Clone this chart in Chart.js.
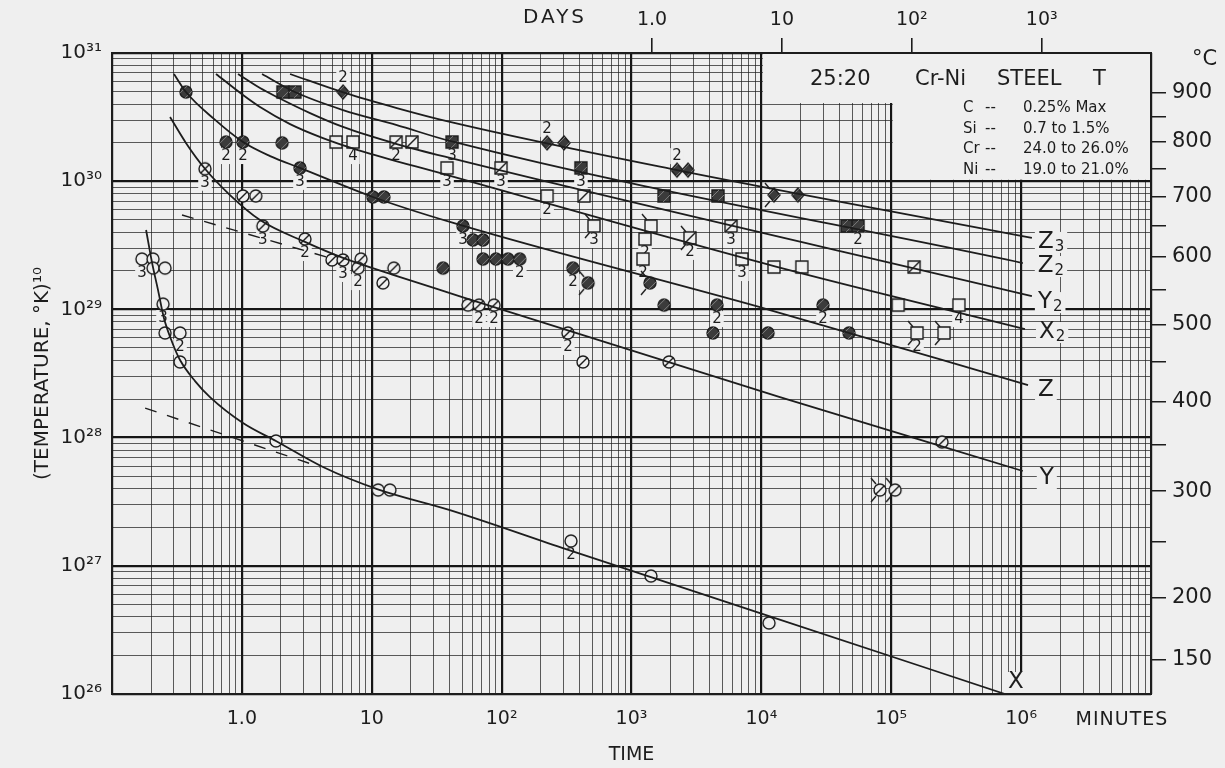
<!DOCTYPE html>
<html><head><meta charset="utf-8">
<script src="https://cdn.jsdelivr.net/npm/chart.js@4.4.1/dist/chart.umd.min.js"></script>
<style>html,body{margin:0;padding:0;background:#efefef;overflow:hidden}canvas{display:block}</style>
</head><body><canvas id="c" width="1225" height="768"></canvas>
<script>
// ---------- axis ticks / labels ----------
const xMajorTicks = [1, 10, 100, 1000, 1e4, 1e5, 1e6];
const xMajorLabels = ['1.0', '10', '10²', '10³', '10⁴', '10⁵', '10⁶'];
const dayTicksMin = [1440, 14400, 144000, 1440000];
const dayLabels = ['1.0', '10', '10²', '10³'];
const yMajorTicks = [1e26, 1e27, 1e28, 1e29, 1e30, 1e31];
const yMajorLabels = ['10²⁶', '10²⁷', '10²⁸', '10²⁹', '10³⁰', '10³¹'];
const celsiusMajor = [900, 800, 700, 600, 500, 400, 300, 200, 150];
const celsiusMinor = [850, 750, 650, 550, 450, 350, 250];

// ---------- master curves (time in minutes, (T,K)^10) ----------
const xCurveT = [0.183, 0.203, 0.226, 0.251, 0.290, 0.334, 0.436, 0.568, 1.02, 1.83, 4.21, 11.0, 40.0, 313, 9760, 751000];
const xCurveV = [4.16e29, 2.34e29, 1.42e29, 8.57e28, 5.57e28, 4.03e28, 2.76e28, 2.07e28, 1.30e28, 9.41e27, 5.90e27, 3.97e27, 2.72e27, 1.35e27, 4.28e26, 1.0e26];
const xDashT = [0.180, 4.00];
const xDashV = [1.70e28, 5.90e27];

const yCurveT = [0.280, 0.371, 0.520, 0.810, 1.38, 3.06, 6.01, 14.8, 40.0, 13900, 1.03e6];
const yCurveV = [3.17e30, 1.99e30, 1.25e30, 7.80e29, 4.98e29, 3.36e29, 2.52e29, 1.85e29, 1.34e29, 2.07e28, 5.49e27];
const yDashT = [0.346, 4.52];
const yDashV = [5.45e29, 2.56e29];

const zCurveT = [0.300, 0.371, 0.610, 1.02, 1.65, 2.80, 10.2, 40.0, 11650, 1.13e6];
const zCurveV = [6.86e30, 4.96e30, 3.06e30, 2.02e30, 1.57e30, 1.27e30, 7.53e29, 4.81e29, 9.89e28, 2.57e28];

const x2CurveT = [0.632, 1.02, 1.38, 2.35, 4.21, 7.84, 35.4, 12500, 1.07e6];
const x2CurveV = [6.86e30, 4.70e30, 3.79e30, 2.79e30, 2.17e30, 1.75e30, 1.14e30, 2.18e29, 7.03e28];

const y2CurveT = [0.934, 1.38, 1.86, 3.35, 6.01, 15.6, 40.0, 1.21e6];
const y2CurveV = [6.86e30, 5.33e30, 4.54e30, 3.40e30, 2.65e30, 1.95e30, 1.52e30, 1.27e29];

const z2CurveT = [1.43, 2.56, 6.01, 15.6, 40.0, 1.03e6];
const z2CurveV = [6.86e30, 4.96e30, 3.59e30, 2.74e30, 2.06e30, 2.30e29];

const z3CurveT = [2.35, 6.22, 15.6, 40.0, 2240, 1.21e6];
const z3CurveV = [6.86e30, 4.88e30, 3.72e30, 2.90e30, 1.22e30, 3.61e29];

// ---------- test points (N = number of coincident tests, Tail = arrow marks) ----------
const xPtT = [0.170, 0.207, 0.207, 0.256, 0.247, 0.256, 0.334, 0.334, 1.83, 11.2, 13.8, 342, 1413, 11450];
const xPtV = [2.47e29, 2.47e29, 2.10e29, 2.10e29, 1.10e29, 6.55e28, 6.55e28, 3.89e28, 9.41e27, 3.90e27, 3.90e27, 1.56e27, 8.32e26, 3.58e26];
const xPtN = [3, 0, 0, 0, 3, 0, 2, 0, 0, 0, 0, 2, 0, 0];
const xPtTail = [0, 0, 0, 0, 0, 0, 0, 0, 0, 0, 0, 0, 0, 0];

const yPtT = [0.520, 1.02, 1.28, 1.45, 3.06, 4.94, 6.01, 8.27, 7.84, 14.8, 12.2, 55.1, 67.0, 87.4, 324, 423, 1945, 2.46e5, 8.19e4, 1.07e5];
const yPtV = [1.25e30, 7.67e29, 7.67e29, 4.47e29, 3.54e29, 2.43e29, 2.43e29, 2.47e29, 2.10e29, 2.10e29, 1.61e29, 1.08e29, 1.08e29, 1.08e29, 6.55e28, 3.89e28, 3.89e28, 9.24e27, 3.90e27, 3.90e27];
const yPtN = [3, 0, 0, 3, 2, 0, 3, 0, 2, 0, 0, 0, 2, 2, 2, 0, 0, 0, 0, 0];
const yPtTail = [0, 0, 0, 0, 0, 0, 0, 0, 0, 0, 0, 0, 0, 0, 0, 0, 0, 0, 1, 1];

const zPtT = [0.371, 0.755, 1.02, 2.04, 2.80, 10.2, 12.4, 35.4, 50.4, 60.2, 71.9, 71.9, 90.5, 112, 138, 354, 463, 1388, 1780, 4550, 4240, 11250, 29800, 47300];
const zPtV = [4.96e30, 2.02e30, 2.02e30, 1.99e30, 1.27e30, 7.53e29, 7.53e29, 2.10e29, 4.47e29, 3.48e29, 3.48e29, 2.47e29, 2.47e29, 2.47e29, 2.47e29, 2.10e29, 1.61e29, 1.61e29, 1.08e29, 1.08e29, 6.55e28, 6.55e28, 1.08e29, 6.55e28];
const zPtN = [0, 2, 2, 0, 3, 0, 0, 0, 3, 0, 0, 0, 0, 0, 2, 2, 0, 0, 0, 2, 0, 0, 2, 0];
const zPtTail = [0, 0, 0, 0, 0, 0, 0, 0, 0, 0, 0, 0, 0, 0, 0, 0, 1, 1, 0, 0, 0, 0, 0, 0];

const x2PtT = [5.31, 7.17, 38.0, 224, 514, 1413, 1270, 1226, 7090, 12500, 20500, 1.13e5, 3.32e5, 1.58e5, 2.55e5];
const x2PtV = [2.02e30, 2.02e30, 1.27e30, 7.67e29, 4.47e29, 4.47e29, 3.54e29, 2.47e29, 2.47e29, 2.14e29, 2.14e29, 1.08e29, 1.08e29, 6.55e28, 6.55e28];
const x2PtN = [0, 4, 3, 2, 3, 0, 2, 2, 3, 0, 0, 0, 4, 2, 0];
const x2PtTail = [0, 0, 0, 0, 1, 1, 0, 0, 0, 0, 0, 0, 0, 1, 1];

const y2PtT = [15.4, 20.4, 98.9, 431, 5840, 2820, 1.50e5];
const y2PtV = [2.02e30, 2.02e30, 1.27e30, 7.67e29, 4.47e29, 3.61e29, 2.14e29];
const y2PtN = [2, 0, 3, 0, 3, 2, 0];
const y2PtTail = [0, 0, 0, 0, 0, 1, 0];

const z2PtT = [2.07, 2.56, 41.5, 408, 1780, 4630, 45600, 55500];
const z2PtV = [4.96e30, 4.96e30, 2.02e30, 1.27e30, 7.67e29, 7.67e29, 4.47e29, 4.47e29];
const z2PtN = [0, 0, 3, 3, 0, 0, 0, 2];
const z2PtTail = [0, 0, 0, 0, 0, 0, 0, 0];

const z3PtT = [6.01, 224, 302, 2240, 2720, 12500, 19100];
const z3PtV = [4.96e30, 1.99e30, 1.99e30, 1.22e30, 1.22e30, 7.80e29, 7.80e29];
const z3PtN = [2, 2, 0, 2, 0, 0, 0];
const z3PtTail = [0, 0, 0, 0, 0, 1, 0];

const curveNames = ['X', 'Y', 'Z', 'X', 'Y', 'Z', 'Z'];
const curveSubs = ['', '', '', '2', '2', '2', '3'];

const alloyTitle = ['25:20', 'Cr-Ni', 'STEEL', 'T'];
const alloyElems = ['C', 'Si', 'Cr', 'Ni'];
const alloyValues = ['0.25% Max', '0.7 to 1.5%', '24.0 to 26.0%', '19.0 to 21.0%'];

// ---------- styling ----------
const INK = '#1d1d1d';
const BG = '#efefef';
const FONT = '"DejaVu Sans", "Noto Sans", sans-serif';
Chart.defaults.font.family = FONT;
Chart.defaults.color = INK;

function decadeTicks(a, b) {
  const out = [];
  for (let n = a; n < b; n++) for (let k = 1; k <= 9; k++) out.push(k * Math.pow(10, n));
  out.push(Math.pow(10, b));
  return out;
}
function labelFor(v, majors, labels) {
  const i = majors.findIndex(m => Math.abs(Math.log10(v / m)) < 1e-6);
  return i >= 0 ? labels[i] : '';
}
function isDecade(v) { const l = Math.log10(v); return Math.abs(l - Math.round(l)) < 1e-6; }
const gridColor = c => isDecade(c.tick.value) ? '#151515' : 'rgba(30,30,30,0.72)';
const gridWidth = c => isDecade(c.tick.value) ? 2.2 : 1;

function makeMarker(shape, tails) {
  const S = 32, cv = document.createElement('canvas');
  cv.width = S; cv.height = S;
  const g = cv.getContext('2d'), m = S / 2;
  const path = () => {
    g.beginPath();
    if (shape.startsWith('circle')) g.arc(m, m, 6, 0, Math.PI * 2);
    else if (shape.startsWith('square')) g.rect(m - 6, m - 6, 12, 12);
    else { g.moveTo(m, m - 7); g.lineTo(m + 6, m); g.lineTo(m, m + 7); g.lineTo(m - 6, m); g.closePath(); }
  };
  const filled = shape.endsWith('Fill') || shape === 'diamond';
  g.lineWidth = 1.4; g.strokeStyle = INK;
  path(); g.fillStyle = filled ? '#3b3b3b' : BG; g.fill(); g.stroke();
  if (filled) {
    g.save(); path(); g.clip();
    g.strokeStyle = 'rgba(160,160,160,0.75)'; g.lineWidth = 0.9;
    g.beginPath();
    g.moveTo(m - 6, m + 1); g.lineTo(m + 1, m - 6);
    g.moveTo(m - 1, m + 6); g.lineTo(m + 6, m - 1);
    g.stroke(); g.restore();
  }
  if (shape.endsWith('Slash')) {
    g.beginPath();
    if (shape.startsWith('circle')) { g.moveTo(m - 4.3, m + 4.3); g.lineTo(m + 4.3, m - 4.3); }
    else { g.moveTo(m - 6, m + 6); g.lineTo(m + 6, m - 6); }
    g.stroke();
  }
  if (tails) {
    g.beginPath();
    g.moveTo(m - 4, m - 6); g.lineTo(m - 9, m - 12);
    g.moveTo(m - 4, m + 6); g.lineTo(m - 9, m + 12);
    g.stroke();
  }
  return cv;
}

function lineSet(T, V, dash, idx) {
  return {
    data: T.map((t, i) => ({ x: t, y: V[i] })), showLine: true, pointRadius: 0,
    borderColor: INK, borderWidth: dash ? 1.4 : 1.8, borderDash: dash || [],
    cubicInterpolationMode: 'monotone', fill: false, curveIndex: idx
  };
}
function pointSet(T, V, N, tails, shape, countPos) {
  const normal = makeMarker(shape, false), tailed = makeMarker(shape, true);
  return {
    data: T.map((t, i) => ({ x: t, y: V[i] })), showLine: false,
    pointStyle: c => (tails[c.dataIndex] ? tailed : normal), pointRadius: 7,
    counts: N, countPos: countPos
  };
}

// label offsets (px) relative to the curve's last point
const labelOffsets = [[3, -12], [17, 7], [10, 5], [14, 3], [6, 6], [15, 3], [6, 4]];

const datasets = [
  lineSet(xCurveT, xCurveV, null, 0),
  lineSet(xDashT, xDashV, [12, 11], -1),
  lineSet(yCurveT, yCurveV, null, 1),
  lineSet(yDashT, yDashV, [12, 11], -1),
  lineSet(zCurveT, zCurveV, null, 2),
  lineSet(x2CurveT, x2CurveV, null, 3),
  lineSet(y2CurveT, y2CurveV, null, 4),
  lineSet(z2CurveT, z2CurveV, null, 5),
  lineSet(z3CurveT, z3CurveV, null, 6),
  pointSet(xPtT, xPtV, xPtN, xPtTail, 'circle', 'below'),
  pointSet(yPtT, yPtV, yPtN, yPtTail, 'circleSlash', 'below'),
  pointSet(zPtT, zPtV, zPtN, zPtTail, 'circleFill', 'below'),
  pointSet(x2PtT, x2PtV, x2PtN, x2PtTail, 'square', 'below'),
  pointSet(y2PtT, y2PtV, y2PtN, y2PtTail, 'squareSlash', 'below'),
  pointSet(z2PtT, z2PtV, z2PtN, z2PtTail, 'squareFill', 'below'),
  pointSet(z3PtT, z3PtV, z3PtN, z3PtTail, 'diamond', 'above')
];

function bgText(g, text, x, y, align) {
  const w = g.measureText(text).width;
  const x0 = align === 'left' ? x : x - w / 2;
  g.fillStyle = BG; g.fillRect(x0 - 2, y - 8, w + 4, 16);
  g.fillStyle = INK; g.textAlign = align || 'center'; g.textBaseline = 'middle';
  g.fillText(text, x, y);
}

const deco = {
  id: 'deco',
  beforeDraw(chart) {
    const g = chart.ctx; g.save(); g.fillStyle = BG; g.fillRect(0, 0, chart.width, chart.height); g.restore();
  },
  beforeDatasetsDraw(chart) {
    const g = chart.ctx, a = chart.chartArea, xs = chart.scales.x, ys = chart.scales.y;
    g.save();
    // blank inset box for the alloy legend
    g.fillStyle = BG;
    const x4 = xs.getPixelForValue(1e4), x5 = xs.getPixelForValue(1e5);
    const y4 = ys.getPixelForValue(4e30), y1 = ys.getPixelForValue(1e30);
    g.fillRect(x4 + 1.5, a.top, a.right - x4 - 1.5, y4 - a.top - 1);
    g.fillRect(x5 + 1.5, a.top, a.right - x5 - 1.5, y1 - a.top - 1.5);
    // count labels
    g.font = '15px ' + FONT;
    chart.data.datasets.forEach((ds, i) => {
      if (!ds.counts) return;
      const meta = chart.getDatasetMeta(i);
      meta.data.forEach((el, j) => {
        const n = ds.counts[j];
        if (!n) return;
        const dy = ds.countPos === 'above' ? -14 : 14;
        bgText(g, String(n), el.x, el.y + dy, 'center');
      });
    });
    // curve labels
    chart.data.datasets.forEach((ds, i) => {
      if (ds.curveIndex === undefined || ds.curveIndex < 0) return;
      const k = ds.curveIndex;
      const meta = chart.getDatasetMeta(i);
      const last = meta.data[meta.data.length - 1];
      const px = last.x + labelOffsets[k][0], py = last.y + labelOffsets[k][1];
      g.font = '23px ' + FONT;
      const w1 = g.measureText(curveNames[k]).width;
      g.font = '15px ' + FONT;
      const w2 = curveSubs[k] ? g.measureText(curveSubs[k]).width + 1 : 0;
      g.fillStyle = BG; g.fillRect(px - 3, py - 10, w1 + w2 + 6, 21);
      g.fillStyle = INK; g.textAlign = 'left'; g.textBaseline = 'middle';
      g.font = '23px ' + FONT; g.fillText(curveNames[k], px, py);
      if (curveSubs[k]) { g.font = '15px ' + FONT; g.fillText(curveSubs[k], px + w1 + 1, py + 5); }
    });
    g.restore();
  },
  afterDraw(chart) {
    const g = chart.ctx, a = chart.chartArea;
    g.save();
    g.strokeStyle = INK; g.lineWidth = 2;
    g.strokeRect(a.left, a.top, a.right - a.left, a.bottom - a.top);
    g.fillStyle = INK; g.textBaseline = 'middle';
    g.font = '21px ' + FONT; g.textAlign = 'left';
    g.fillText('°C', 1192, 60);
    g.textAlign = 'center';
    g.font = '20px ' + FONT;
    g.letterSpacing = '3px';
    g.fillText('DAYS', 555, 18);
    g.letterSpacing = '1px';
    g.font = '19px ' + FONT;
    g.fillText('MINUTES', 1122, 720);
    g.letterSpacing = '0px';
    // alloy legend
    g.textAlign = 'left';
    g.font = '21px ' + FONT;
    const tx = [810, 915, 997, 1093];
    alloyTitle.forEach((s, i) => g.fillText(s, tx[i], 80));
    g.font = '15px ' + FONT;
    alloyElems.forEach((s, i) => {
      const yy = 108 + i * 20.7;
      g.fillText(s, 963, yy);
      g.fillText('--', 985, yy);
      g.fillText(alloyValues[i], 1023, yy);
    });
    g.restore();
  }
};

const tickFont = { family: FONT, size: 19 };
new Chart(document.getElementById('c'), {
  type: 'scatter',
  data: { datasets },
  options: {
    responsive: false, animation: false, devicePixelRatio: 1,
    layout: { padding: 0 },
    plugins: { legend: { display: false }, tooltip: { enabled: false } },
    scales: {
      x: {
        type: 'logarithmic', position: 'bottom', min: 0.1, max: 1e7,
        afterBuildTicks: s => { s.ticks = decadeTicks(-1, 7).map(v => ({ value: v })); },
        afterFit: s => { s.height = 74; },
        ticks: { autoSkip: false, maxRotation: 0, minRotation: 0, padding: 14, font: tickFont, color: INK,
          callback: v => labelFor(v, xMajorTicks, xMajorLabels) },
        grid: { drawTicks: false, color: gridColor, lineWidth: gridWidth },
        border: { display: false },
        title: { display: true, text: 'TIME', color: INK, font: { family: FONT, size: 19 }, padding: { top: 0, bottom: 2 } }
      },
      x2: {
        type: 'logarithmic', position: 'top', min: 0.1, max: 1e7,
        afterBuildTicks: s => { s.ticks = dayTicksMin.map(v => ({ value: v })); },
        afterFit: s => { s.height = 53; },
        ticks: { autoSkip: false, maxRotation: 0, minRotation: 0, padding: 7, font: tickFont, color: INK,
          callback: v => labelFor(v, dayTicksMin, dayLabels) },
        grid: { drawOnChartArea: false, drawTicks: true, tickLength: 15, color: INK, lineWidth: 1.6 },
        border: { display: false }
      },
      y: {
        type: 'logarithmic', position: 'left', min: 1e26, max: 1e31,
        afterBuildTicks: s => { s.ticks = decadeTicks(26, 31).map(v => ({ value: v })); },
        afterFit: s => { s.width = 112; },
        ticks: { autoSkip: false, padding: 10, font: { family: FONT, size: 20 }, color: INK,
          callback: v => labelFor(v, yMajorTicks, yMajorLabels) },
        grid: { drawTicks: false, color: gridColor, lineWidth: gridWidth },
        border: { display: false },
        title: { display: true, text: '(TEMPERATURE, °K)¹⁰', color: INK, font: { family: FONT, size: 20 }, padding: { top: 31, bottom: 0 } }
      },
      y2: {
        type: 'logarithmic', position: 'right', min: 1e26, max: 1e31,
        afterBuildTicks: s => { s.ticks = celsiusMajor.concat(celsiusMinor).map(c => ({ value: Math.pow(c + 273.15, 10) })); },
        afterFit: s => { s.width = 74; },
        ticks: { autoSkip: false, padding: 6, font: { family: FONT, size: 21 }, color: INK,
          callback: v => { const c = Math.round(Math.pow(v, 0.1) - 273.15); return celsiusMajor.includes(c) ? String(c) : ''; } },
        grid: { drawOnChartArea: false, drawTicks: true, tickLength: 15, color: INK, lineWidth: 1.5 },
        border: { display: false }
      }
    }
  },
  plugins: [deco]
});
</script></body></html>
